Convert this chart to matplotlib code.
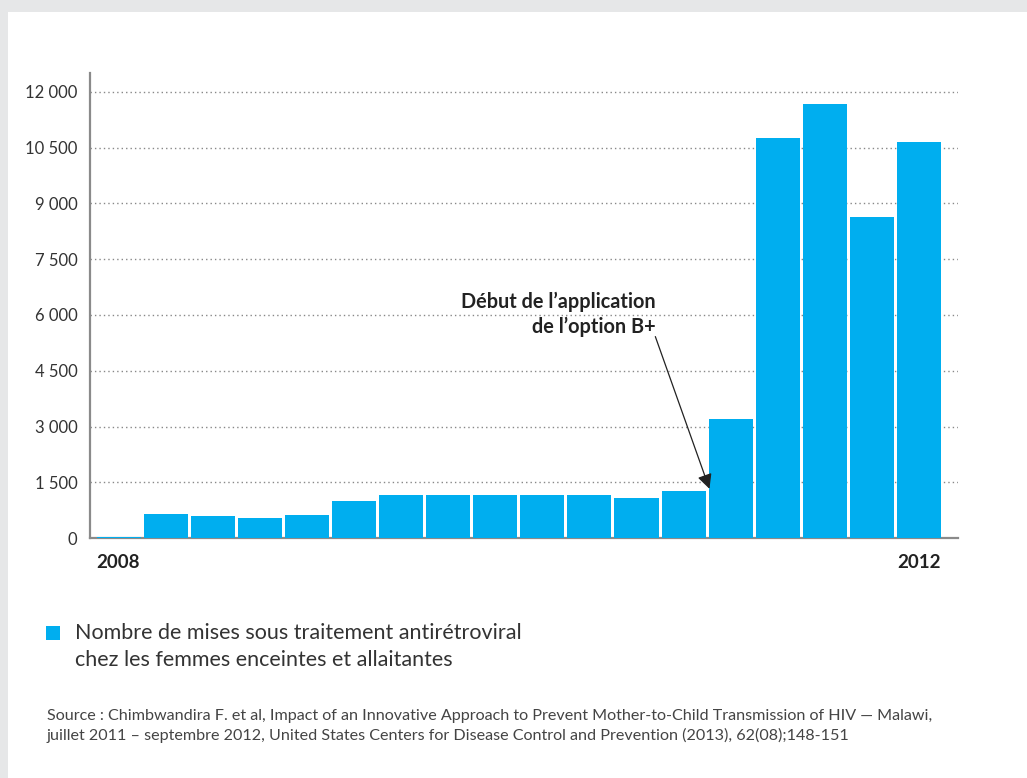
import matplotlib
matplotlib.use("Agg")
import matplotlib.pyplot as plt
from matplotlib.patches import Rectangle

# ---- data ----
periods = list(range(18))
values = [45, 645, 590, 540, 620, 995, 1160, 1160, 1160, 1160, 1160, 1075, 1265,
          3200, 10760, 11680, 8640, 10660]
y_ticks = [0, 1500, 3000, 4500, 6000, 7500, 9000, 10500, 12000]
y_tick_labels = ["0", "1 500", "3 000", "4 500", "6 000", "7 500", "9 000", "10 500", "12 000"]
x_tick_labels = ["2008", "2012"]
legend_label = "Nombre de mises sous traitement antirétroviral\nchez les femmes enceintes et allaitantes"
annotation = "Début de l’application\nde l’option B+"
source = ("Source : Chimbwandira F. et al, Impact of an Innovative Approach to Prevent Mother-to-Child Transmission of HIV — Malawi,\n"
          "juillet 2011 – septembre 2012, United States Centers for Disease Control and Prevention (2013), 62(08);148-151")

BLUE = "#00AEEF"
TXT = "#333333"
W, H = 1027, 778

plt.rcParams['font.family'] = ['Lato', 'DejaVu Sans']

fig = plt.figure(figsize=(W / 100, H / 100), dpi=100)
fig.patch.set_facecolor("#E6E7E8")
bg = Rectangle((8 / W, 0), 1 - 8 / W, 1 - 12 / H, transform=fig.transFigure,
               facecolor="white", edgecolor="none", zorder=-10)
fig.add_artist(bg)

ax = fig.add_axes([90 / W, 1 - 538.3 / H, (958 - 90) / W, (538.3 - 72.7) / H])
ax.set_facecolor("none")
ax.set_zorder(1)

bw = 0.935
ax.bar(periods, values, width=bw, color=BLUE, zorder=3)

ax.set_xlim(-0.61, 17.83)
ax.set_ylim(0, 12510)
ax.set_yticks(y_ticks)
ax.set_yticklabels(y_tick_labels, fontsize=12, color=TXT)
ax.tick_params(axis='y', length=0, pad=9)
for y in y_ticks[1:]:
    ax.axhline(y, color="#888888", lw=1.0, ls=(0, (1, 2.2)), zorder=1)

ax.set_xticks([periods[0] - bw / 2, periods[-1] + bw / 2])
ax.set_xticklabels(x_tick_labels, fontsize=13.5, fontweight='bold', color="#222222")
for lab, ha in zip(ax.get_xticklabels(), ["left", "right"]):
    lab.set_ha(ha)
ax.tick_params(axis='x', length=0, pad=11)

for s in ["top", "right"]:
    ax.spines[s].set_visible(False)
for s in ["left", "bottom"]:
    ax.spines[s].set_color("#8a8a8a")
    ax.spines[s].set_linewidth(1.6)
ax.spines["bottom"].set_zorder(2.5)

ax.annotate(annotation, xy=(12.55, 1330), xytext=(11.4, 5420),
            ha='right', va='bottom', fontsize=14.3, fontweight='bold', color="#222222",
            linespacing=1.25,
            arrowprops=dict(arrowstyle='-|>', color="#222222", lw=0.9,
                            mutation_scale=22, shrinkA=0, shrinkB=0,
                            patchA=None, relpos=(1.0, 0.0)),
            zorder=5)

# legend
fig.add_artist(Rectangle((46 / W, 1 - 640 / H), 14 / W, 14 / H, transform=fig.transFigure,
                         facecolor=BLUE, edgecolor="none", zorder=2))
fig.text(75 / W, 1 - 623 / H, legend_label, fontsize=15.5, color=TXT, va='top', ha='left',
         linespacing=1.42)

fig.text(47 / W, 1 - 709 / H, source, fontsize=11.6, color="#444444", va='top', ha='left',
         linespacing=1.4)

fig.savefig("out.png", dpi=100, facecolor=fig.get_facecolor())
